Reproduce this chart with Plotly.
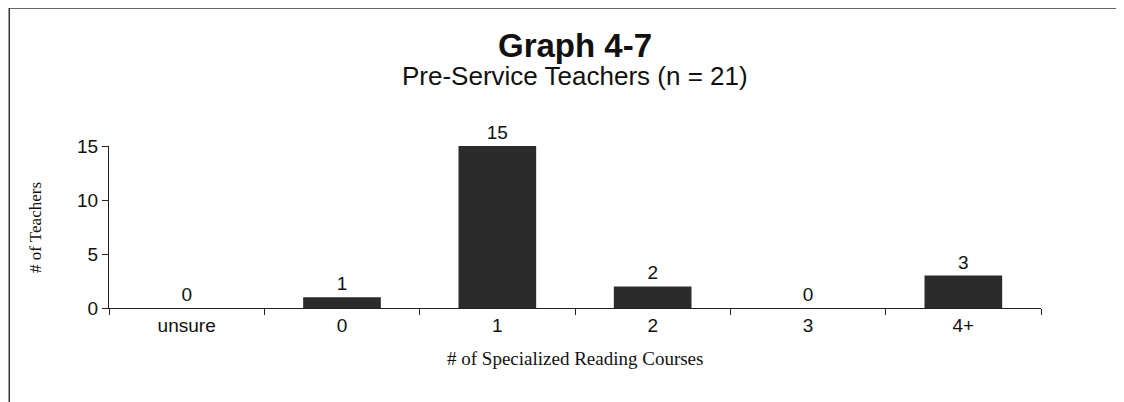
import plotly.graph_objects as go

# Graph 4-7 : cours de lecture spécialisés (enseignants en formation)
courses = ["unsure", "0", "1", "2", "3", "4+"]
teachers = [0, 1, 15, 2, 0, 3]

title = "Graph 4-7"
subtitle = "Pre-Service Teachers (n = 21)"
x_title = "# of Specialized Reading Courses"
y_title = "# of Teachers"

serif = "Times New Roman, Liberation Serif, serif"

fig = go.Figure(go.Bar(
    x=courses,
    y=teachers,
    text=teachers,
    textposition="outside",
    cliponaxis=False,
    marker=dict(color="#2b2b2b", line=dict(width=0)),
    textfont=dict(family="Arial", size=19, color="#111"),
))

# la page html ajoute 8px de marge au body -> marges corrigées
fig.update_layout(
    width=1124,
    height=402,
    margin=dict(l=101, r=91, t=138, b=102),
    paper_bgcolor="white",
    plot_bgcolor="white",
    bargap=0.5,
    showlegend=False,
    font=dict(family="Arial", color="#111"),
)

fig.update_xaxes(
    showline=True, linecolor="#222", linewidth=1,
    ticks="outside", tickson="boundaries", ticklen=6, tickcolor="#222",
    tickfont=dict(size=19, family="Arial"),
    showgrid=False, automargin=False,
)
fig.update_yaxes(
    range=[0, 15], tickvals=[0, 5, 10, 15],
    showline=True, linecolor="#222", linewidth=1,
    ticks="outside", ticklen=6, tickcolor="#222",
    tickfont=dict(size=19, family="Arial"),
    showgrid=False, zeroline=False, automargin=False,
)

annots = [
    dict(text="<b>" + title + "</b>", x=0.5, y=1.623, font=dict(size=33, family="Arial")),
    dict(text=subtitle, x=0.5, y=1.432, font=dict(size=26, family="Arial")),
    dict(text=x_title, x=0.5, y=-0.309, font=dict(size=19, family=serif)),
    dict(text=y_title, x=-0.0794, y=0.5, textangle=-90, font=dict(size=17, family=serif)),
]
for a in annots:
    fig.add_annotation(showarrow=False, xref="paper", yref="paper",
                       xanchor="center", yanchor="middle", **a)

# cadre (haut et gauche)
fig.add_shape(type="line", xref="paper", yref="paper", x0=-0.107, x1=1.2, y0=1.852, y1=1.852,
              line=dict(color="#333", width=1.5))
fig.add_shape(type="line", xref="paper", yref="paper", x0=-0.107, x1=-0.107, y0=1.852, y1=-0.7,
              line=dict(color="#333", width=1.5))

fig.write_html("out.html")
